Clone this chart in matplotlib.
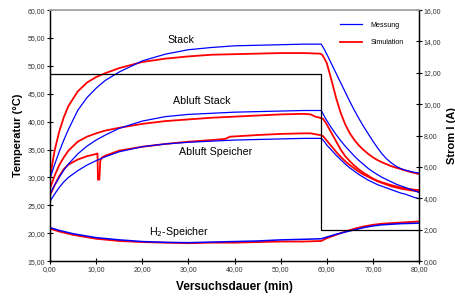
import numpy as np
import matplotlib.pyplot as plt
from matplotlib.ticker import FuncFormatter

plt.rcParams['font.family'] = ['Liberation Sans', 'DejaVu Sans']

# time grids (min)
t_rise = [0, 1, 2, 3, 4, 6, 8, 10, 12, 15, 20, 25, 30, 35, 40, 45, 50, 55, 58.8]
t_fall = [59.5, 60, 61, 62, 63, 64, 65, 66, 67, 68, 69, 70, 71, 72, 73, 74, 75, 76, 77, 78, 79, 80]

# Stack
stack_mess = [29.8, 32.3, 34.6, 36.7, 38.6, 42.0, 44.3, 46.0, 47.4, 48.9, 50.9, 52.1, 52.9, 53.3, 53.6, 53.7, 53.8, 53.9, 53.9,
              52.9, 52.1, 50.4, 48.7, 47.0, 45.3, 43.6, 42.0, 40.5, 39.1, 37.8, 36.5, 35.3, 34.2, 33.3, 32.6, 32.0, 31.6, 31.3, 31.1, 30.9, 30.8]
t_stack_sim = [0, 1, 2, 3, 4, 6, 8, 10, 12, 15, 20, 25, 30, 35, 40, 45, 50, 55, 58.5, 59, 59.5, 60, 61, 62, 63, 64, 65,
               66, 67, 68, 69, 70, 71, 72, 74, 76, 78, 80]
stack_sim = [30.0, 34.8, 38.2, 40.8, 42.8, 45.4, 47.0, 48.0, 48.7, 49.6, 50.7, 51.3, 51.7, 52.0, 52.1, 52.2, 52.3, 52.3, 52.2,
             52.0, 51.3, 50.5, 47.5, 44.3, 41.6, 39.5, 37.9, 36.7, 35.7, 34.9, 34.2, 33.6, 33.1, 32.7, 32.0, 31.5, 31.0, 30.6]

# Abluft Stack
abst_mess = [27.0, 28.6, 30.0, 31.3, 32.4, 34.2, 35.6, 36.7, 37.6, 38.8, 40.1, 40.9, 41.3, 41.5, 41.7, 41.8, 41.9, 42.0, 42.0,
             40.9, 40.2, 38.9, 37.7, 36.6, 35.6, 34.7, 33.8, 33.0, 32.3, 31.6, 31.0, 30.5, 30.0, 29.6, 29.2, 28.8, 28.5, 28.2, 27.9, 27.6, 27.3]
t_abst_sim = [0, 1, 2, 3, 4, 6, 8, 10, 12, 15, 20, 25, 30, 35, 40, 45, 50, 55, 56.5, 57.5, 58.5, 59.2, 60, 61, 62, 63, 64,
              65, 66, 67, 68, 69, 70, 71, 72, 74, 76, 78, 80]
abst_sim = [28.0, 30.3, 32.2, 33.6, 34.8, 36.4, 37.3, 37.9, 38.4, 38.9, 39.6, 40.1, 40.4, 40.7, 40.9, 41.1, 41.3, 41.4, 41.3,
            40.9, 40.7, 40.5, 39.5, 38.0, 36.5, 35.0, 33.8, 32.9, 32.1, 31.4, 30.8, 30.3, 29.8, 29.4, 29.1, 28.6, 28.2, 27.9, 27.7]

# Abluft Speicher
absp_mess = [25.7, 27.0, 28.2, 29.2, 30.0, 31.2, 32.2, 33.0, 33.7, 34.6, 35.5, 36.0, 36.3, 36.5, 36.7, 36.8, 36.9, 37.0, 37.0,
             36.4, 35.8, 34.9, 34.0, 33.2, 32.4, 31.7, 31.1, 30.5, 30.0, 29.5, 29.1, 28.7, 28.4, 28.1, 27.8, 27.5, 27.2, 27.0, 26.7, 26.4, 26.2]
t_absp_sim = [0, 1, 2, 3, 4, 6, 8, 10, 10.3, 10.4, 10.7, 10.9, 11.3, 12, 15, 20, 25, 30, 35, 38, 39, 45, 50, 55, 56.5, 58.5,
              59.2, 60, 61, 62, 63, 64, 65, 66, 67, 68, 69, 70, 71, 72, 74, 76, 78, 80]
absp_sim = [26.8, 28.6, 30.2, 31.5, 32.3, 33.2, 33.8, 34.2, 34.3, 29.6, 29.6, 33.0, 33.6, 33.9, 34.8, 35.5, 36.0, 36.4, 36.7,
            36.9, 37.3, 37.6, 37.8, 37.9, 37.9, 37.6, 37.4, 36.6, 35.6, 34.6, 33.7, 32.9, 32.2, 31.6, 31.0, 30.5, 30.1, 29.7,
            29.3, 29.0, 28.4, 28.0, 27.7, 27.5]

# H2-Speicher
t_h2 = [0, 2, 5, 10, 15, 20, 25, 30, 35, 40, 45, 50, 55, 58.8, 60, 62, 64, 66, 68, 70, 72, 74, 76, 80]
h2_mess = [21.0, 20.5, 19.9, 19.2, 18.8, 18.5, 18.35, 18.3, 18.4, 18.5, 18.6, 18.8, 18.9, 19.0, 19.3, 19.8, 20.2, 20.6,
           21.0, 21.3, 21.5, 21.6, 21.7, 21.8]
h2_sim = [20.8, 20.3, 19.7, 19.0, 18.6, 18.4, 18.3, 18.2, 18.3, 18.3, 18.4, 18.5, 18.5, 18.6, 19.1, 19.7, 20.3, 20.8,
          21.2, 21.5, 21.7, 21.8, 21.9, 22.1]

# Strom
t_strom = [0, 58.8, 58.8, 80]
strom = [11.9, 11.9, 2.0, 2.0]

t_mess = t_rise + t_fall

fig = plt.figure(figsize=(4.56, 2.98), dpi=100)
ax = fig.add_axes([0.1096, 0.124, 0.8094, 0.842])
ax2 = ax.twinx()

blue = '#0000ff'
red = '#ff0000'
ax.plot(t_mess, stack_mess, color=blue, lw=0.9, label='Messung', zorder=3)
ax.plot(t_stack_sim, stack_sim, color=red, lw=1.3, label='Simulation', zorder=2)
ax.plot(t_mess, abst_mess, color=blue, lw=0.9, zorder=3)
ax.plot(t_abst_sim, abst_sim, color=red, lw=1.3, zorder=2)
ax.plot(t_mess, absp_mess, color=blue, lw=0.9, zorder=3)
ax.plot(t_absp_sim, absp_sim, color=red, lw=1.3, zorder=2)
ax.plot(t_h2, h2_sim, color=red, lw=1.3, zorder=2)
ax.plot(t_h2, h2_mess, color=blue, lw=1.1, zorder=3)

ax2.plot(t_strom, strom, color='black', lw=0.9)

fmt = FuncFormatter(lambda v, p: f"{v:.2f}".replace('.', ','))
ax.set_xlim(0, 80)
ax.set_ylim(15, 60)
ax2.set_ylim(0, 16)
ax.set_xticks(np.arange(0, 81, 10))
ax.set_yticks(np.arange(15, 61, 5))
ax2.set_yticks(np.arange(0, 17, 2))
for a in (ax, ax2):
    a.xaxis.set_major_formatter(fmt)
    a.yaxis.set_major_formatter(fmt)
    a.tick_params(direction='inout', length=4, width=0.8, labelsize=5, labelcolor='#333333', pad=1.5)
    a.spines['top'].set_color('#aaaaaa')
    a.spines['top'].set_linewidth(1.2)
    for s in ('left', 'right', 'bottom'):
        a.spines[s].set_linewidth(0.9)

ax.set_xlabel('Versuchsdauer (min)', fontsize=8.5, fontweight='bold', labelpad=6)
ax.set_ylabel('Temperatur (°C)', fontsize=8, fontweight='bold', labelpad=3)
ax2.set_ylabel('Strom I (A)', fontsize=8, fontweight='bold', labelpad=4)

ax.text(28.3, 54.6, 'Stack', fontsize=7.7, ha='center', va='center')
ax.text(32.8, 43.7, 'Abluft Stack', fontsize=7.7, ha='center', va='center')
ax.text(36.0, 34.6, 'Abluft Speicher', fontsize=7.7, ha='center', va='center')
ax.text(28.0, 20.2, 'H$_2$-Speicher', fontsize=7.7, ha='center', va='center')

ax.legend(loc='upper right', bbox_to_anchor=(0.975, 0.98), frameon=False, fontsize=5.1,
          handlelength=3.0, handletextpad=1.2, labelspacing=1.5)

fig.savefig('out.png', dpi=100)
